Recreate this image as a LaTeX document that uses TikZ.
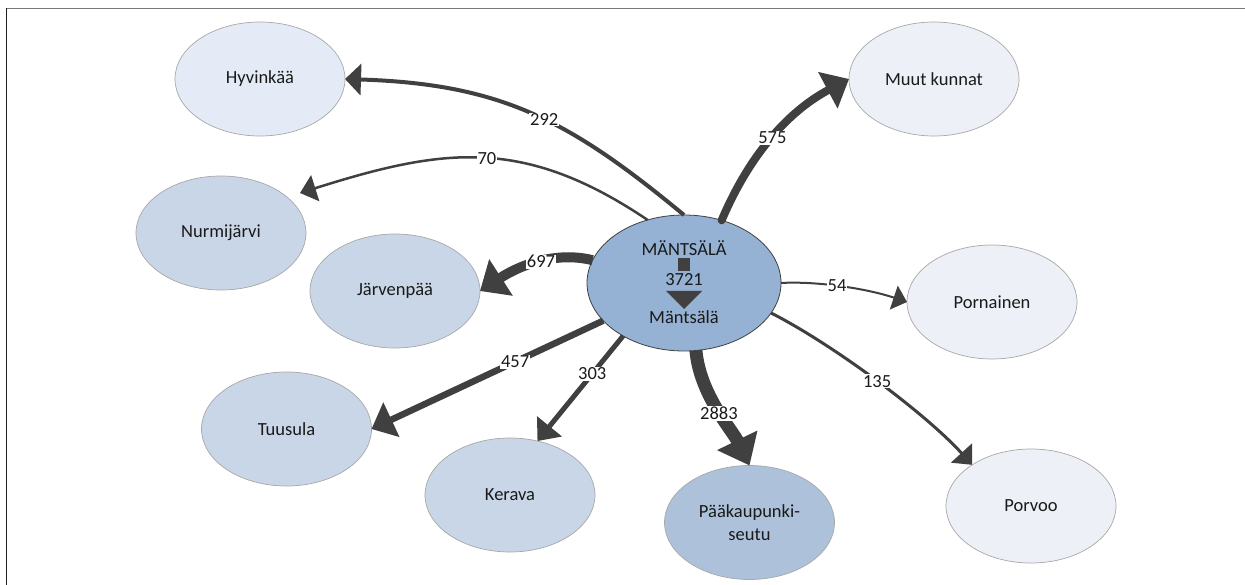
\documentclass[tikz,border=0pt]{standalone}
\usepackage{fontspec}
\setmainfont{Carlito}
\usetikzlibrary{arrows.meta,shapes.geometric}
\definecolor{arr}{HTML}{404040}
\definecolor{txtc}{HTML}{1A1A1A}
\definecolor{bordc}{HTML}{A8A8A8}
\definecolor{framegray}{HTML}{7A7A7A}
\definecolor{framedark}{HTML}{202020}
\definecolor{cA}{HTML}{E4EBF6}
\definecolor{cB}{HTML}{EDF0F6}
\definecolor{cC}{HTML}{C8D6E7}
\definecolor{cD}{HTML}{ADC1DB}
\definecolor{cM}{HTML}{95B1D3}
\newcommand\mfs{\fontsize{18.5}{23}\selectfont}
\begin{document}
\begin{tikzpicture}[x=1pt,y=-1pt,
  city/.style={ellipse, draw=bordc, line width=0.7pt, minimum width=170pt, minimum height=114pt, inner sep=0pt, outer sep=0pt, font=\mfs, text=txtc},
  ctxt/.style={inner sep=0pt, font=\mfs, text=txtc},
  lbl/.style={fill=white, inner sep=0.8pt, font=\mfs, text=txtc},
  flow/.style={draw=arr, line width=#1}]
\useasboundingbox (0,0) rectangle (1245,585);
\fill[white] (0,0) rectangle (1245,585);
\draw[framegray, line width=1.4pt] (6.5,8.5) -- (1245,8.5);
\draw[framedark, line width=1.3pt] (6.5,8.5) -- (6.5,585);
% outer nodes
\node[city, fill=cA] (hyv) at (260,79) {Hyvinkää};
\node[city, fill=cC] (nur) at (221,233) {Nurmijärvi};
\node[city, fill=cC] (jar) at (395,291) {Järvenpää};
\node[city, fill=cC] (tuu) at (286.5,429) {Tuusula};
\node[city, fill=cC] (ker) at (510,495) {Kerava};
\node[city, fill=cD, align=center] (pks) at (749.5,522.5) {Pääkaupunki-\\seutu};
\node[city, fill=cB] (muut) at (934,79) {Muut kunnat};
\node[city, fill=cB] (porn) at (992,302) {Pornainen};
\node[city, fill=cB] (por) at (1031,506) {Porvoo};
% centre node
\node[ellipse, draw=arr, line width=0.8pt, fill=cM, minimum width=194pt, minimum height=136pt, inner sep=0pt, outer sep=0pt] (m) at (684,283) {};
\node[ctxt] (m1) at (684,248) {MÄNTSÄLÄ};
\node[fill=arr, minimum size=12.5pt, inner sep=0pt] (sq) at (684,264.3) {};
\node[ctxt] (m2) at (684,280) {3721};
\fill[arr] (666,291) -- (702,291) -- (684,309) -- cycle;
\node[ctxt] (m3) at (684,317) {Mäntsälä};
\coordinate (nurTip) at (300,193);
% flows
\draw[flow=4pt, -{Triangle[length=16pt,width=31pt]}] (m.90) .. controls (568,119) and (500,84) .. (hyv.east) node[lbl,pos=.45]{292};
\draw[flow=2.5pt, -{Triangle[length=16pt,width=27pt]}] (m.120) .. controls (523,136) and (442.5,148) .. (nurTip) node[lbl,pos=.48]{70};
\draw[flow=8pt, line cap=round, -{Triangle[length=24pt,width=40pt]}] (m.59) .. controls (749,156) and (787,112) .. (muut.west) node[lbl,pos=.5]{575};
\draw[flow=10pt, -{Triangle[length=25pt,width=42pt]}] (m.166) .. controls (560,252) and (525,262) .. (jar.east) node[lbl,pos=.5]{697};
\draw[flow=6.5pt, -{Triangle[length=22pt,width=37pt]}] (m.205) -- (tuu.east) node[lbl,pos=.38]{457};
\draw[flow=5pt, -{Triangle[length=19pt,width=31pt]}] (m.221) -- (ker.63) node[lbl,pos=.36]{303};
\draw[flow=13pt, -{Triangle[length=28pt,width=43pt]}] (m.280) .. controls (700,395) and (732,429.5) .. (pks.north) node[lbl,pos=.52]{2883};
\draw[flow=2pt, -{Triangle[length=14pt,width=25pt]}] (m.east) .. controls (815,281) and (865,288) .. (porn.west) node[lbl,pos=.47]{54};
\draw[flow=3pt, -{Triangle[length=16pt,width=28pt]}] (m.341) .. controls (833,344.5) and (925,413) .. (por.145) node[lbl,pos=.5]{135};
\end{tikzpicture}
\end{document}
